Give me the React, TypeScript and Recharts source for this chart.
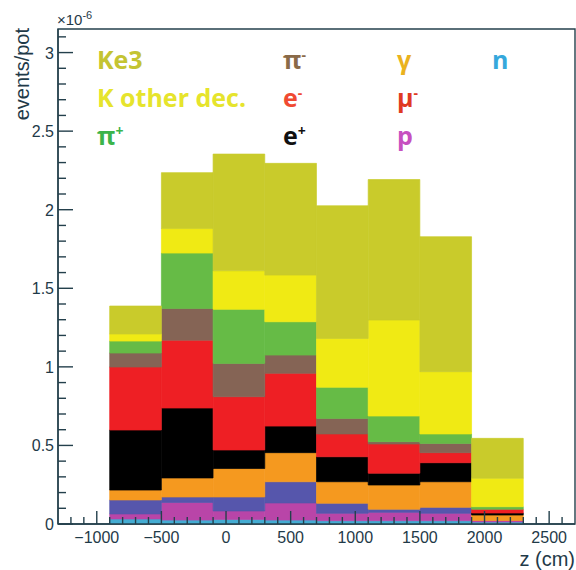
import { ComposedChart, Bar, XAxis, YAxis, ReferenceArea } from "recharts";

// bin centres in cm (bins are 400 cm wide)
const binCenters = [-700, -300, 100, 500, 900, 1300, 1700, 2100];

// events/pot in units of 1e-6, stacked from the bottom up
const nValues = [0.032, 0.025, 0.029, 0.025, 0.021, 0.021, 0.021, 0.013];
const pValues = [0.032, 0.112, 0.054, 0.109, 0.047, 0.053, 0.047, 0.009];
const muMinusValues = [0.089, 0.035, 0.089, 0.135, 0.064, 0.02, 0.038, 0.0];
const gammaValues = [0.063, 0.121, 0.181, 0.185, 0.137, 0.154, 0.163, 0.035];
const ePlusValues = [0.382, 0.445, 0.118, 0.169, 0.159, 0.075, 0.121, 0.013];
const eMinusValues = [0.401, 0.432, 0.339, 0.336, 0.145, 0.186, 0.064, 0.024];
const piMinusValues = [0.089, 0.201, 0.212, 0.116, 0.099, 0.015, 0.059, 0.0];
const piPlusValues = [0.076, 0.353, 0.344, 0.212, 0.198, 0.163, 0.06, 0.016];
const kOtherValues = [0.045, 0.156, 0.245, 0.297, 0.311, 0.611, 0.396, 0.181];
const ke3Values = [0.178, 0.356, 0.743, 0.711, 0.844, 0.894, 0.859, 0.254];

const xTicks = [
  -1200, -1100, -1000, -900, -800, -700, -600, -500, -400, -300, -200, -100, 0,
  100, 200, 300, 400, 500, 600, 700, 800, 900, 1000, 1100, 1200, 1300, 1400,
  1500, 1600, 1700, 1800, 1900, 2000, 2100, 2200, 2300, 2400, 2500, 2600,
];
const yTicks = [
  0, 0.1, 0.2, 0.3, 0.4, 0.5, 0.6, 0.7, 0.8, 0.9, 1, 1.1, 1.2, 1.3, 1.4, 1.5,
  1.6, 1.7, 1.8, 1.9, 2, 2.1, 2.2, 2.3, 2.4, 2.5, 2.6, 2.7, 2.8, 2.9, 3, 3.1,
];

const series = [
  { key: "n", values: nValues, color: "#44acd2" },
  { key: "p", values: pValues, color: "#b945a8" },
  { key: "muMinus", values: muMinusValues, color: "#5656ac" },
  { key: "gamma", values: gammaValues, color: "#f5991f" },
  { key: "ePlus", values: ePlusValues, color: "#000000" },
  { key: "eMinus", values: eMinusValues, color: "#ee1f24" },
  { key: "piMinus", values: piMinusValues, color: "#856455" },
  { key: "piPlus", values: piPlusValues, color: "#66bb46" },
  { key: "kOther", values: kOtherValues, color: "#f0ea14" },
  { key: "ke3", values: ke3Values, color: "#c9cb2b" },
];

const data = binCenters.map((z, i) => {
  const row: Record<string, number> = { z };
  series.forEach((s) => (row[s.key] = s.values[i]));
  return row;
});

const AXIS = "#24404c";
const TEXT = "#1f3a48";
const FONT = "'Liberation Sans', Arial, sans-serif";

const W = 576;
const H = 570;
const PLOT_LEFT = 58;
const PLOT_RIGHT = 575;
const PLOT_TOP = 29;
const PLOT_BOTTOM = 524;
const X_MIN = -1300;
const X_MAX = 2700;
const BIN_WIDTH = 400;
// one bin in pixels, a hair under so recharts does not shrink the bar
const BAR_PX = ((PLOT_RIGHT - PLOT_LEFT) * BIN_WIDTH) / (X_MAX - X_MIN) - 0.05;

const XTick = (props: any) => {
  const { x, y, payload } = props;
  const v = payload.value;
  const major = v % 500 === 0;
  return (
    <g>
      <line x1={x} y1={y} x2={x} y2={y - (major ? 13 : 7)} stroke={AXIS} strokeWidth={1.4} />
      {major && (
        <text x={x} y={y + 19} textAnchor="middle" fontSize={16} fill={TEXT} fontFamily={FONT}>
          {v < 0 ? `\u2212${-v}` : v}
        </text>
      )}
    </g>
  );
};

const YTick = (props: any) => {
  const { x, y, payload } = props;
  const v = payload.value;
  const major = Math.round(v * 10) % 5 === 0;
  return (
    <g>
      <line x1={x} y1={y} x2={x + (major ? 15 : 8)} y2={y} stroke={AXIS} strokeWidth={1.4} />
      {major && (
        <text x={x - 4} y={y + 6} textAnchor="end" fontSize={16} fill={TEXT} fontFamily={FONT}>
          {String(v)}
        </text>
      )}
    </g>
  );
};

const legendItems = [
  { text: "Ke3", sup: "", color: "#c4c432", col: 97, row: 69 },
  { text: "K other dec.", sup: "", color: "#e6e42c", col: 97, row: 107 },
  { text: "\u03c0", sup: "+", color: "#3bb44a", col: 97, row: 145 },
  { text: "\u03c0", sup: "-", color: "#8a6a48", col: 283, row: 69 },
  { text: "e", sup: "-", color: "#f04a32", col: 283, row: 107 },
  { text: "e", sup: "+", color: "#111111", col: 283, row: 145 },
  { text: "\u03b3", sup: "", color: "#eab21e", col: 397, row: 69 },
  { text: "\u03bc", sup: "-", color: "#e03a22", col: 397, row: 107 },
  { text: "p", sup: "", color: "#c650c0", col: 397, row: 145 },
  { text: "n", sup: "", color: "#35a8dc", col: 492, row: 69 },
];

export default function App() {
  return (
    <div style={{ position: "absolute", left: 0, top: 0, width: W, height: H, background: "#fff" }}>
      <ComposedChart
        width={W}
        height={H}
        data={data}
        margin={{ top: PLOT_TOP, right: W - PLOT_RIGHT, left: 0, bottom: 0 }}
        barCategoryGap={0}
        barGap={0}
      >
        <XAxis
          dataKey="z"
          type="number"
          domain={[X_MIN, X_MAX]}
          allowDataOverflow
          ticks={xTicks}
          interval={0}
          tick={<XTick />}
          tickLine={false}
          tickSize={0}
          tickMargin={0}
          height={H - PLOT_BOTTOM}
          axisLine={{ stroke: AXIS, strokeWidth: 1.4 }}
        />
        <YAxis
          type="number"
          domain={[0, 3.15]}
          allowDataOverflow
          ticks={yTicks}
          interval={0}
          tick={<YTick />}
          tickLine={false}
          tickSize={0}
          tickMargin={0}
          width={PLOT_LEFT}
          axisLine={{ stroke: AXIS, strokeWidth: 1.4 }}
        />
        {series.map((s) => (
          <Bar
            key={s.key}
            dataKey={s.key}
            stackId="stack"
            fill={s.color}
            stroke={s.color}
            strokeWidth={0.7}
            barSize={BAR_PX}
            isAnimationActive={false}
          />
        ))}
        <ReferenceArea
          x1={X_MIN}
          x2={X_MAX}
          y1={0}
          y2={3.15}
          fill="none"
          stroke={AXIS}
          strokeWidth={1.4}
          ifOverflow="visible"
        />
      </ComposedChart>
      <svg
        width={W}
        height={H}
        style={{ position: "absolute", left: 0, top: 0, pointerEvents: "none" }}
      >
        <text
          transform="translate(29, 28) rotate(-90)"
          textAnchor="end"
          fontSize={20}
          fill={TEXT}
          fontFamily={FONT}
        >
          events/pot
        </text>
        <text x={57} y={25} fontSize={15} fill={TEXT} fontFamily={FONT}>
          {"\u00d710"}
          <tspan dy={-6} fontSize={11}>
            -6
          </tspan>
        </text>
        <text x={575} y={566} textAnchor="end" fontSize={20} fill={TEXT} fontFamily={FONT}>
          z (cm)
        </text>
        {legendItems.map((it) => (
          <text
            key={it.text + it.sup + it.col}
            x={it.col}
            y={it.row}
            fontSize={25}
            fontWeight="bold"
            fill={it.color}
            fontFamily="'Open Sans', Arial, sans-serif"
          >
            {it.text}
            {it.sup && (
              <tspan dy={-9} fontSize={14}>
                {it.sup}
              </tspan>
            )}
          </text>
        ))}
      </svg>
    </div>
  );
}
